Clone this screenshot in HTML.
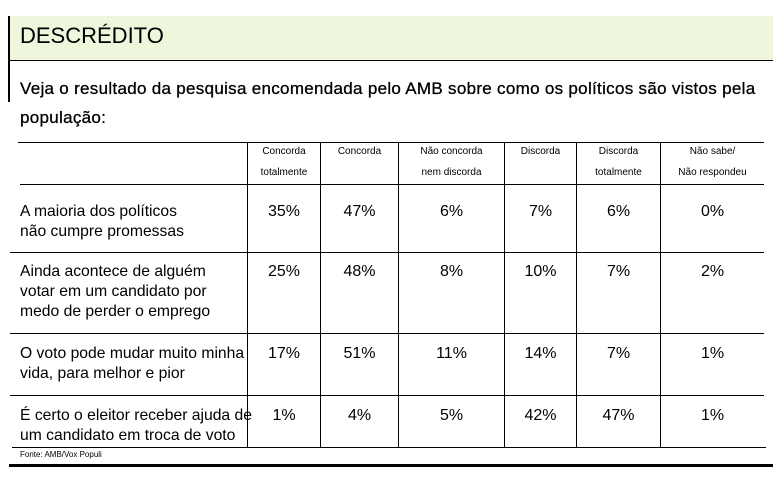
<!DOCTYPE html>
<html><head><meta charset="utf-8">
<style>
body{margin:0;width:781px;height:480px;background:#fff;position:relative;overflow:hidden;font-family:"Liberation Sans",sans-serif;color:#000}
.a{position:absolute}
.h{position:absolute;font-size:10px;text-align:center;line-height:21px}
.v{position:absolute;font-size:16px;text-align:center}
.l{position:absolute;font-size:15.7px;line-height:20px;left:20px;white-space:nowrap}
</style></head><body>
<div class="a" style="left:10px;top:16px;width:763px;height:44px;background:#eef6dc;border-bottom:1px solid #000"></div>
<div class="a" style="left:8px;top:16px;width:2px;height:86px;background:#000"></div>
<div class="a" style="left:20px;top:23px;font-size:22px">DESCRÉDITO</div>
<div class="a" style="left:20px;top:74px;white-space:nowrap;font-size:17px;line-height:29px;letter-spacing:0.3px;-webkit-text-stroke:0.3px #000">Veja o resultado da pesquisa encomendada pelo AMB sobre como os políticos são vistos pela<br>população:</div>
<svg class="a" style="left:0;top:0" width="781" height="480">
<g stroke="#000" stroke-width="1">
<line x1="18" y1="142.5" x2="764" y2="142.5"/>
<line x1="20" y1="184.5" x2="764" y2="184.5"/>
<line x1="10" y1="252.5" x2="764" y2="252.5"/>
<line x1="10" y1="333.5" x2="764" y2="333.5"/>
<line x1="10" y1="395.5" x2="764" y2="395.5"/>
<line x1="12" y1="447.5" x2="766" y2="447.5"/>
<line x1="247.5" y1="142" x2="247.5" y2="447"/>
<line x1="320.5" y1="142" x2="320.5" y2="447"/>
<line x1="398.5" y1="142" x2="398.5" y2="447"/>
<line x1="504.5" y1="142" x2="504.5" y2="447"/>
<line x1="576.5" y1="142" x2="576.5" y2="447"/>
<line x1="660.5" y1="142" x2="660.5" y2="447"/>
</g>
<rect x="9" y="464" width="764" height="3" fill="#000"/>
</svg>
<div class="h" style="left:248px;top:141px;width:72px">Concorda<br>totalmente</div>
<div class="h" style="left:321px;top:141px;width:77px">Concorda</div>
<div class="h" style="left:399px;top:141px;width:105px">Não concorda<br>nem discorda</div>
<div class="h" style="left:505px;top:141px;width:71px">Discorda</div>
<div class="h" style="left:577px;top:141px;width:83px">Discorda<br>totalmente</div>
<div class="h" style="left:661px;top:141px;width:103px">Não sabe/<br>Não respondeu</div>

<div class="l" style="top:202px">A maioria dos políticos<br>não cumpre promessas</div>
<div class="l" style="top:262px">Ainda acontece de alguém<br>votar em um candidato por<br>medo de perder o emprego</div>
<div class="l" style="top:344px">O voto pode mudar muito minha<br>vida, para melhor  e pior</div>
<div class="l" style="top:406px">É certo o eleitor receber ajuda de<br>um candidato em troca de voto</div>
<div class="a" style="left:20px;top:450px;font-size:8px">Fonte: AMB/Vox Populi</div>

<div id="vals"></div>
<script>
const rowTops=[202,262,344,406];
const row1=["35%","47%","6%","7%","6%","0%"];
const row2=["25%","48%","8%","10%","7%","2%"];
const row3=["17%","51%","11%","14%","7%","1%"];
const row4=["1%","4%","5%","42%","47%","1%"];
const rows=[row1,row2,row3,row4];
const colL=[248,321,399,505,577,661],colR=[320,398,504,576,660,764];
const host=document.getElementById('vals');
rows.forEach((r,i)=>r.forEach((v,j)=>{
 const d=document.createElement('div');
 d.className='v';
 
 
 d.style.left=colL[j]+'px';d.style.width=(colR[j]-colL[j])+'px';d.style.top=(rowTops[i]+1)+'px';
 d.textContent=v;host.appendChild(d);
}));
</script>
</body></html>
